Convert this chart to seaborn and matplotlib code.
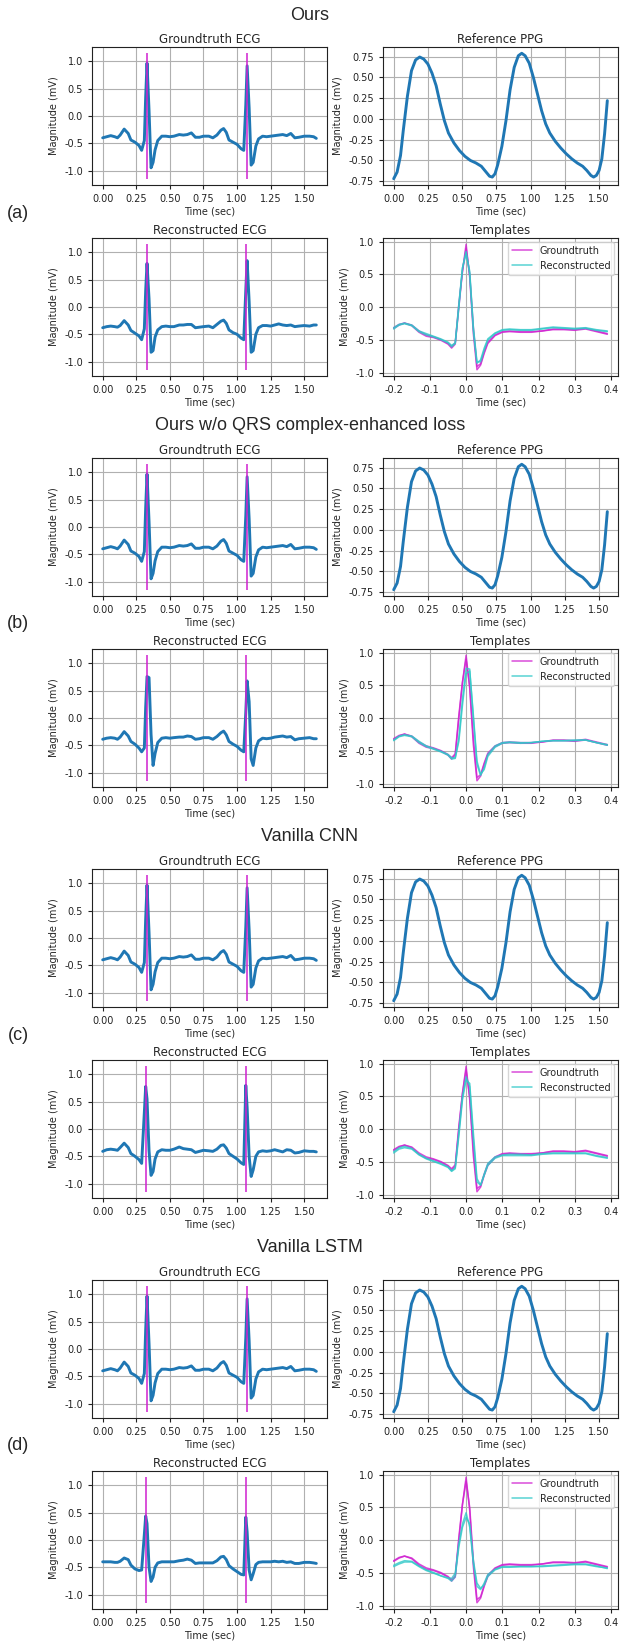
import numpy as np
import matplotlib
matplotlib.use("Agg")
import matplotlib.pyplot as plt
import seaborn as sns

# ---- data ----
block_titles = ["Ours", "Ours w/o QRS complex-enhanced loss", "Vanilla CNN", "Vanilla LSTM"]
block_tags = ["(a)", "(b)", "(c)", "(d)"]

ecg_time = [0.00, 0.03, 0.06, 0.09, 0.11, 0.13, 0.16, 0.19, 0.21, 0.24, 0.27, 0.29, 0.31, 0.32,
            0.33, 0.345, 0.36, 0.375, 0.39, 0.41, 0.44, 0.47, 0.50, 0.53, 0.57, 0.60, 0.63, 0.66,
            0.69, 0.72, 0.75, 0.79, 0.82, 0.85, 0.88, 0.90, 0.92, 0.94, 0.97, 1.00, 1.03, 1.05,
            1.065, 1.075, 1.09, 1.105, 1.12, 1.14, 1.16, 1.19, 1.22, 1.25, 1.28, 1.31, 1.34, 1.37,
            1.40, 1.43, 1.46, 1.50, 1.54, 1.57, 1.59]

gt_ecg = [-0.40, -0.38, -0.36, -0.38, -0.40, -0.35, -0.24, -0.32, -0.44, -0.48, -0.54, -0.63, -0.45, 0.35,
          0.97, 0.10, -0.95, -0.85, -0.62, -0.45, -0.37, -0.37, -0.38, -0.37, -0.34, -0.35, -0.34, -0.31,
          -0.39, -0.39, -0.37, -0.37, -0.40, -0.35, -0.26, -0.23, -0.30, -0.44, -0.48, -0.52, -0.60, -0.63,
          0.20, 0.92, 0.15, -0.90, -0.85, -0.55, -0.42, -0.37, -0.38, -0.37, -0.36, -0.35, -0.34, -0.36,
          -0.32, -0.40, -0.39, -0.37, -0.37, -0.38, -0.41]

rec_ecg_a = [-0.38, -0.36, -0.35, -0.36, -0.37, -0.34, -0.25, -0.33, -0.43, -0.48, -0.53, -0.60, -0.40, 0.30,
             0.80, 0.15, -0.83, -0.80, -0.55, -0.42, -0.36, -0.35, -0.36, -0.36, -0.33, -0.33, -0.32, -0.32,
             -0.38, -0.37, -0.36, -0.35, -0.38, -0.32, -0.26, -0.24, -0.30, -0.42, -0.47, -0.50, -0.57, -0.60,
             0.30, 0.85, 0.10, -0.83, -0.80, -0.50, -0.38, -0.34, -0.34, -0.35, -0.33, -0.31, -0.33, -0.34,
             -0.33, -0.36, -0.35, -0.34, -0.35, -0.33, -0.33]

rec_ecg_b = [-0.39, -0.37, -0.36, -0.37, -0.39, -0.35, -0.25, -0.33, -0.43, -0.48, -0.55, -0.62, -0.55, 0.20,
             0.76, 0.74, -0.30, -0.87, -0.65, -0.45, -0.37, -0.36, -0.37, -0.36, -0.35, -0.35, -0.33, -0.34,
             -0.39, -0.38, -0.36, -0.36, -0.39, -0.34, -0.27, -0.24, -0.31, -0.43, -0.48, -0.52, -0.59, -0.62,
             0.10, 0.68, 0.30, -0.75, -0.87, -0.55, -0.42, -0.37, -0.38, -0.37, -0.35, -0.34, -0.33, -0.35,
             -0.34, -0.40, -0.38, -0.37, -0.36, -0.38, -0.38]

rec_ecg_c = [-0.41, -0.38, -0.37, -0.38, -0.39, -0.34, -0.26, -0.34, -0.45, -0.50, -0.56, -0.63, 0.30, 0.78,
             0.55, -0.40, -0.85, -0.78, -0.55, -0.42, -0.38, -0.39, -0.39, -0.37, -0.33, -0.36, -0.37, -0.38,
             -0.43, -0.41, -0.39, -0.40, -0.41, -0.37, -0.30, -0.29, -0.35, -0.45, -0.50, -0.55, -0.62, -0.65,
             0.80, 0.40, -0.50, -0.87, -0.75, -0.50, -0.42, -0.40, -0.41, -0.40, -0.38, -0.40, -0.42, -0.38,
             -0.39, -0.44, -0.43, -0.40, -0.41, -0.41, -0.42]

rec_ecg_d = [-0.40, -0.40, -0.40, -0.41, -0.41, -0.39, -0.33, -0.36, -0.46, -0.53, -0.56, -0.55, 0.10, 0.44,
             0.30, -0.50, -0.76, -0.68, -0.50, -0.42, -0.40, -0.40, -0.40, -0.40, -0.38, -0.37, -0.35, -0.37,
             -0.43, -0.42, -0.42, -0.42, -0.42, -0.38, -0.31, -0.30, -0.36, -0.47, -0.53, -0.58, -0.63, -0.64,
             0.42, 0.15, -0.55, -0.73, -0.62, -0.45, -0.41, -0.40, -0.40, -0.40, -0.39, -0.40, -0.39, -0.41,
             -0.40, -0.43, -0.43, -0.41, -0.41, -0.42, -0.43]

rec_ecgs = [rec_ecg_a, rec_ecg_b, rec_ecg_c, rec_ecg_d]

gt_rpeaks = [0.33, 1.075]
rec_rpeaks = [[0.33, 1.067], [0.33, 1.067], [0.322, 1.067], [0.322, 1.067]]

ppg_time = [0.00, 0.025, 0.05, 0.07, 0.10, 0.13, 0.16, 0.19, 0.22, 0.25, 0.28, 0.31, 0.34, 0.37,
            0.40, 0.44, 0.48, 0.52, 0.56, 0.60, 0.64, 0.67, 0.70, 0.72, 0.74, 0.76, 0.79, 0.82,
            0.85, 0.88, 0.91, 0.935, 0.96, 0.99, 1.02, 1.05, 1.08, 1.11, 1.14, 1.18, 1.22, 1.26,
            1.30, 1.34, 1.38, 1.41, 1.44, 1.46, 1.48, 1.50, 1.52, 1.54, 1.56]
ppg = [-0.72, -0.64, -0.44, -0.14, 0.27, 0.58, 0.71, 0.745, 0.72, 0.66, 0.55, 0.40, 0.18, -0.02,
       -0.17, -0.29, -0.38, -0.45, -0.50, -0.53, -0.57, -0.63, -0.69, -0.70, -0.66, -0.55, -0.33, -0.02,
       0.35, 0.62, 0.76, 0.79, 0.76, 0.67, 0.50, 0.30, 0.10, -0.06, -0.17, -0.27, -0.35, -0.42,
       -0.48, -0.53, -0.57, -0.62, -0.68, -0.70, -0.68, -0.62, -0.48, -0.18, 0.22]

tpl_time = [-0.20, -0.185, -0.17, -0.15, -0.13, -0.11, -0.09, -0.07, -0.05, -0.04, -0.03, -0.02,
            -0.01, 0.00, 0.01, 0.02, 0.03, 0.04, 0.05, 0.06, 0.08, 0.10, 0.12, 0.15, 0.18, 0.21,
            0.24, 0.27, 0.30, 0.33, 0.36, 0.39]

gt_tpl_1 = [-0.32, -0.27, -0.24, -0.28, -0.38, -0.44, -0.46, -0.50, -0.56, -0.62, -0.56, 0.00,
            0.55, 0.96, 0.45, -0.40, -0.95, -0.88, -0.70, -0.55, -0.43, -0.38, -0.37, -0.38, -0.38, -0.36,
            -0.34, -0.34, -0.35, -0.33, -0.37, -0.41]
gt_tpl_2 = [-0.31, -0.26, -0.24, -0.27, -0.36, -0.42, -0.45, -0.49, -0.55, -0.60, -0.54, 0.05,
            0.55, 0.90, 0.50, -0.30, -0.90, -0.86, -0.68, -0.53, -0.42, -0.37, -0.36, -0.37, -0.37, -0.36,
            -0.33, -0.33, -0.34, -0.32, -0.36, -0.40]

rec_tpl_a = [
    [-0.31, -0.26, -0.24, -0.27, -0.36, -0.40, -0.44, -0.48, -0.53, -0.58, -0.54, 0.00,
     0.60, 0.82, 0.55, -0.30, -0.83, -0.83, -0.65, -0.50, -0.40, -0.35, -0.34, -0.35, -0.35, -0.33,
     -0.31, -0.32, -0.33, -0.32, -0.35, -0.37],
    [-0.33, -0.27, -0.25, -0.28, -0.37, -0.42, -0.45, -0.49, -0.54, -0.60, -0.55, 0.05,
     0.60, 0.85, 0.50, -0.35, -0.85, -0.80, -0.62, -0.48, -0.39, -0.34, -0.33, -0.34, -0.34, -0.32,
     -0.30, -0.31, -0.32, -0.31, -0.34, -0.36],
]
rec_tpl_b = [
    [-0.33, -0.27, -0.25, -0.27, -0.35, -0.42, -0.46, -0.50, -0.55, -0.60, -0.60, -0.30,
     0.30, 0.76, 0.75, 0.00, -0.70, -0.87, -0.75, -0.55, -0.42, -0.37, -0.36, -0.37, -0.37, -0.35,
     -0.34, -0.34, -0.33, -0.33, -0.37, -0.40],
    [-0.34, -0.28, -0.26, -0.28, -0.37, -0.43, -0.47, -0.51, -0.56, -0.62, -0.61, -0.35,
     0.20, 0.68, 0.72, 0.05, -0.65, -0.85, -0.78, -0.58, -0.44, -0.38, -0.37, -0.38, -0.37, -0.35,
     -0.34, -0.34, -0.34, -0.33, -0.37, -0.41],
]
rec_tpl_c = [
    [-0.34, -0.28, -0.26, -0.29, -0.38, -0.44, -0.48, -0.52, -0.57, -0.63, -0.58, -0.05,
     0.50, 0.80, 0.65, -0.15, -0.80, -0.85, -0.68, -0.52, -0.42, -0.39, -0.38, -0.38, -0.39, -0.37,
     -0.36, -0.36, -0.36, -0.36, -0.40, -0.43],
    [-0.36, -0.30, -0.28, -0.30, -0.39, -0.45, -0.49, -0.53, -0.58, -0.64, -0.60, -0.10,
     0.45, 0.75, 0.70, -0.05, -0.75, -0.85, -0.70, -0.55, -0.44, -0.40, -0.40, -0.40, -0.40, -0.38,
     -0.37, -0.37, -0.37, -0.37, -0.41, -0.44],
]
rec_tpl_d = [
    [-0.40, -0.36, -0.33, -0.33, -0.40, -0.46, -0.50, -0.54, -0.57, -0.58, -0.50, -0.05,
     0.25, 0.42, 0.20, -0.35, -0.70, -0.75, -0.65, -0.52, -0.44, -0.40, -0.40, -0.40, -0.40, -0.40,
     -0.39, -0.38, -0.37, -0.37, -0.40, -0.42],
    [-0.38, -0.34, -0.31, -0.32, -0.39, -0.45, -0.49, -0.54, -0.58, -0.62, -0.55, -0.10,
     0.20, 0.35, 0.25, -0.30, -0.65, -0.73, -0.68, -0.55, -0.45, -0.41, -0.41, -0.40, -0.40, -0.39,
     -0.38, -0.37, -0.36, -0.36, -0.39, -0.43],
]
rec_tpls = [rec_tpl_a, rec_tpl_b, rec_tpl_c, rec_tpl_d]

# ---- style ----
sns.set_style("whitegrid", {
    "axes.edgecolor": "#222222", "grid.color": "#b0b0b0", "axes.linewidth": 0.9,
    "xtick.bottom": True, "ytick.left": True, "xtick.color": "#222222", "ytick.color": "#222222",
})
plt.rcParams["font.family"] = ["DejaVu Sans"]
plt.rcParams["xtick.labelsize"] = 7
plt.rcParams["ytick.labelsize"] = 7
plt.rcParams["xtick.major.size"] = 3
plt.rcParams["ytick.major.size"] = 3
plt.rcParams["xtick.major.width"] = 0.8
plt.rcParams["ytick.major.width"] = 0.8

BLUE = "#1f77b4"
MAG = "#d020d0"
CYAN = "#30c8c8"

W, H = 620, 1641
fig = plt.figure(figsize=(W / 100, H / 100), dpi=100)
cols = [(92, 327), (383, 618)]
rows = [(47, 185), (238, 376)]
step = 411


def make_ax(col, row, k):
    x0, x1 = cols[col]
    y0, y1 = rows[row]
    y0 += k * step
    y1 += k * step
    return fig.add_axes([x0 / W, 1 - y1 / H, (x1 - x0) / W, (y1 - y0) / H])


def finish(ax, title):
    ax.set_title(title, fontsize=8.5, pad=3)
    ax.set_xlabel("Time (sec)", fontsize=7, labelpad=2)
    ax.set_ylabel("Magnitude (mV)", fontsize=7)
    ax.grid(True, lw=0.8)
    for s in ax.spines.values():
        s.set_visible(True)


def ecg_panel(ax, values, peaks, title):
    sns.lineplot(x=ecg_time, y=values, color=BLUE, lw=2.1, ax=ax, sort=False, estimator=None)
    ax.vlines(peaks, -1.15, 1.15, color=MAG, lw=1.1)
    ax.set_xticks([0, 0.25, 0.5, 0.75, 1.0, 1.25, 1.5])
    ax.set_yticks([-1.0, -0.5, 0.0, 0.5, 1.0])
    ax.xaxis.set_major_formatter(matplotlib.ticker.FormatStrFormatter("%.2f"))
    ax.yaxis.set_major_formatter(matplotlib.ticker.FormatStrFormatter("%.1f"))
    finish(ax, title)


for k in range(4):
    fig.text(0.5, 1 - (15 + k * step) / H, block_titles[k], ha="center", va="center",
             fontsize=13, family=["Liberation Sans", "DejaVu Sans"])
    fig.text(18 / W, 1 - (213 + k * step) / H, block_tags[k], ha="center", va="center",
             fontsize=13, family=["Liberation Sans", "DejaVu Sans"])

    ax = make_ax(0, 0, k)
    ecg_panel(ax, gt_ecg, gt_rpeaks, "Groundtruth ECG")

    ax = make_ax(1, 0, k)
    sns.lineplot(x=ppg_time, y=ppg, color=BLUE, lw=2.1, ax=ax, sort=False, estimator=None)
    ax.set_xticks([0, 0.25, 0.5, 0.75, 1.0, 1.25, 1.5])
    ax.set_yticks([-0.75, -0.5, -0.25, 0.0, 0.25, 0.5, 0.75])
    ax.xaxis.set_major_formatter(matplotlib.ticker.FormatStrFormatter("%.2f"))
    ax.yaxis.set_major_formatter(matplotlib.ticker.FormatStrFormatter("%.2f"))
    finish(ax, "Reference PPG")

    ax = make_ax(0, 1, k)
    ecg_panel(ax, rec_ecgs[k], rec_rpeaks[k], "Reconstructed ECG")

    ax = make_ax(1, 1, k)
    for i, beat in enumerate([gt_tpl_1, gt_tpl_2]):
        sns.lineplot(x=tpl_time, y=beat, color=MAG, lw=1.1, alpha=0.8, ax=ax, sort=False,
                     estimator=None, label="Groundtruth" if i == 0 else None)
    for i, beat in enumerate(rec_tpls[k]):
        sns.lineplot(x=tpl_time, y=beat, color=CYAN, lw=1.1, alpha=0.8, ax=ax, sort=False,
                     estimator=None, label="Reconstructed" if i == 0 else None)
    ax.set_xticks([-0.2, -0.1, 0.0, 0.1, 0.2, 0.3, 0.4])
    ax.set_yticks([-1.0, -0.5, 0.0, 0.5, 1.0])
    ax.xaxis.set_major_formatter(matplotlib.ticker.FormatStrFormatter("%.1f"))
    ax.yaxis.set_major_formatter(matplotlib.ticker.FormatStrFormatter("%.1f"))
    ax.legend(loc="upper right", fontsize=7, frameon=True, borderaxespad=0.4)
    finish(ax, "Templates")

fig.savefig("out.png", dpi=100)
